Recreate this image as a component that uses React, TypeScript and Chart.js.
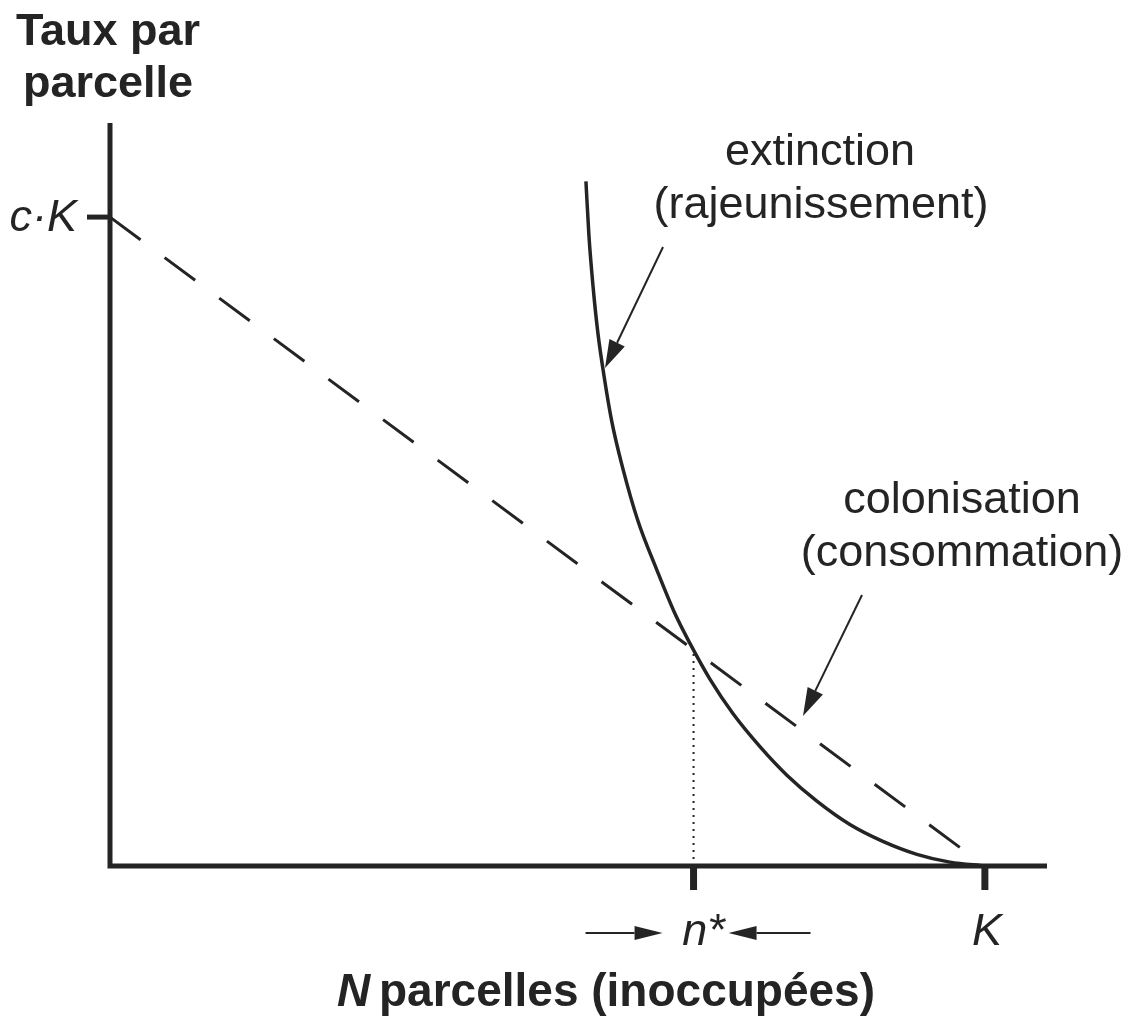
import React, { useEffect, useRef } from "react";
import { Chart, registerables } from "chart.js";

Chart.register(...registerables);

// ---- Data (x in units where K = 100, y in units where c·K = 100) ----
const K_VALUE = 100;
const CK_VALUE = 100;
const N_STAR = 66.7;
const X_MAX = 107.1;
const Y_MAX = 114.5;

// colonisation (consommation): straight line from c·K at 0 to 0 at K
const colonisationX = [0, 100];
const colonisationY = [100, 0];

// extinction (rajeunissement): steep curve, tangent to the axis at K
const extinctionX = [54.4, 54.74, 55.2, 55.77, 56.46, 57.37, 58.63, 60.34, 62.51, 64.57, 66.29, 68.57, 71.2, 74.29, 77.37, 80.8, 84.57, 88.34, 92.23, 96.0, 100];
const extinctionY = [105.5, 97.2, 89.5, 82.1, 75.6, 68.4, 61.2, 53.2, 45.6, 38.9, 34.3, 28.8, 23.5, 18.4, 14.0, 10.0, 6.4, 3.8, 1.8, 0.6, 0];

const xTickValues = [N_STAR, K_VALUE];
const xTickLabels = ["n*", "K"];
const yTickValues = [CK_VALUE];
const yTickLabels = ["c·K"];

const yTitleLines = ["Taux par", "parcelle"];
const xTitleItalic = "N";
const xTitleRest = "parcelles (inoccupées)";
const extinctionLabel = ["extinction", "(rajeunissement)"];
const colonisationLabel = ["colonisation", "(consommation)"];

const INK = "#242424";
const FONT = '"Liberation Sans", Arial, Helvetica, sans-serif';

function arrow(ctx: CanvasRenderingContext2D, x1: number, y1: number, x2: number, y2: number, headLen: number, headHalf: number, lw: number) {
  const ang = Math.atan2(y2 - y1, x2 - x1);
  const bx = x2 - headLen * Math.cos(ang);
  const by = y2 - headLen * Math.sin(ang);
  ctx.save();
  ctx.strokeStyle = INK;
  ctx.fillStyle = INK;
  ctx.lineWidth = lw;
  ctx.setLineDash([]);
  ctx.beginPath();
  ctx.moveTo(x1, y1);
  ctx.lineTo(bx, by);
  ctx.stroke();
  ctx.beginPath();
  ctx.moveTo(x2, y2);
  ctx.lineTo(bx + headHalf * Math.sin(ang), by - headHalf * Math.cos(ang));
  ctx.lineTo(bx - headHalf * Math.sin(ang), by + headHalf * Math.cos(ang));
  ctx.closePath();
  ctx.fill();
  ctx.restore();
}

const decorPlugin = {
  id: "decor",
  afterDatasetsDraw(chart: any) {
    const ctx: CanvasRenderingContext2D = chart.ctx;
    const xs = chart.scales.x;
    const ys = chart.scales.y;
    const x0 = xs.getPixelForValue(0);
    const y0 = ys.getPixelForValue(0);
    const top = chart.chartArea.top;
    const right = chart.chartArea.right;

    ctx.save();
    ctx.strokeStyle = INK;
    ctx.fillStyle = INK;
    ctx.setLineDash([]);

    // axes
    ctx.lineWidth = 5;
    ctx.beginPath();
    ctx.moveTo(x0, top);
    ctx.lineTo(x0, y0 + 2.5);
    ctx.moveTo(x0 - 2.5, y0);
    ctx.lineTo(right, y0);
    ctx.stroke();

    // y ticks
    yTickValues.forEach((v, i) => {
      const py = ys.getPixelForValue(v);
      ctx.lineWidth = 5;
      ctx.beginPath();
      ctx.moveTo(x0 - 23, py);
      ctx.lineTo(x0, py);
      ctx.stroke();
      ctx.font = `italic 45px ${FONT}`;
      ctx.textAlign = "right";
      ctx.textBaseline = "alphabetic";
      ctx.fillText(yTickLabels[i], x0 - 33, py + 14);
    });

    // x ticks
    xTickValues.forEach((v, i) => {
      const px = xs.getPixelForValue(v);
      ctx.lineWidth = 7;
      ctx.beginPath();
      ctx.moveTo(px, y0);
      ctx.lineTo(px, y0 + 24);
      ctx.stroke();
      ctx.font = `italic 45px ${FONT}`;
      ctx.textAlign = "center";
      ctx.textBaseline = "alphabetic";
      const off = i === 0 ? 10 : 2;
      ctx.fillText(xTickLabels[i], px + off, y0 + 79);
    });

    // arrows around n*
    const nx = xs.getPixelForValue(N_STAR);
    arrow(ctx, nx - 108, y0 + 67, nx - 31, y0 + 67, 28, 7, 2);
    arrow(ctx, nx + 117, y0 + 67, nx + 35, y0 + 67, 28, 7, 2);

    // y title
    ctx.font = `bold 45px ${FONT}`;
    ctx.textAlign = "center";
    ctx.fillText(yTitleLines[0], x0 - 2, top - 78);
    ctx.fillText(yTitleLines[1], x0 - 2, top - 26);

    // x title
    ctx.font = `italic bold 46px ${FONT}`;
    const wN = ctx.measureText(xTitleItalic).width;
    ctx.font = `bold 46px ${FONT}`;
    const wRest = ctx.measureText(" " + xTitleRest).width;
    const cx = 606;
    const startX = cx - (wN + wRest - 4) / 2;
    ctx.textAlign = "left";
    ctx.font = `italic bold 46px ${FONT}`;
    ctx.fillText(xTitleItalic, startX, y0 + 140);
    ctx.font = `bold 46px ${FONT}`;
    ctx.fillText(" " + xTitleRest, startX + wN - 4, y0 + 140);

    // curve labels
    ctx.font = `45px ${FONT}`;
    ctx.textAlign = "center";
    ctx.fillText(extinctionLabel[0], 820, 165);
    ctx.fillText(extinctionLabel[1], 821, 218);
    ctx.fillText(colonisationLabel[0], 962, 513);
    ctx.fillText(colonisationLabel[1], 962, 566);

    // label arrows
    arrow(ctx, 663, 247, 605, 368, 28, 8.5, 2);
    arrow(ctx, 862, 595, 803, 716, 28, 8.5, 2);

    ctx.restore();
  },
};

export default function App() {
  const canvasRef = useRef<HTMLCanvasElement | null>(null);

  useEffect(() => {
    document.body.style.margin = "0";
    const canvas = canvasRef.current;
    if (!canvas) return;

    const colonisationData = colonisationX.map((x, i) => ({ x, y: colonisationY[i] }));
    const extinctionData = extinctionX.map((x, i) => ({ x, y: extinctionY[i] }));
    const dottedData = [
      { x: N_STAR, y: 0 },
      { x: N_STAR, y: CK_VALUE * (1 - N_STAR / K_VALUE) },
    ];

    const chart = new Chart(canvas, {
      type: "line",
      data: {
        datasets: [
          {
            label: "colonisation",
            data: colonisationData,
            borderColor: INK,
            borderWidth: 3,
            borderDash: [38, 30],
            pointRadius: 0,
            fill: false,
            clip: false as any,
          },
          {
            label: "extinction",
            data: extinctionData,
            borderColor: INK,
            borderWidth: 3.5,
            cubicInterpolationMode: "monotone",
            pointRadius: 0,
            fill: false,
            clip: false as any,
          },
          {
            label: "n*",
            data: dottedData,
            borderColor: INK,
            borderWidth: 2,
            borderDash: [2, 5],
            pointRadius: 0,
            fill: false,
            clip: false as any,
          },
        ],
      },
      options: {
        animation: false,
        responsive: false,
        maintainAspectRatio: false,
        devicePixelRatio: 1,
        layout: { padding: { left: 110, right: 87, top: 123, bottom: 154 } },
        plugins: { legend: { display: false }, tooltip: { enabled: false } },
        scales: {
          x: { type: "linear", min: 0, max: X_MAX, display: false },
          y: { type: "linear", min: 0, max: Y_MAX, display: false },
        },
      },
      plugins: [decorPlugin],
    });

    return () => chart.destroy();
  }, []);

  return (
    <div style={{ width: 1134, height: 1020, background: "#fff" }}>
      <canvas ref={canvasRef} width={1134} height={1020} />
    </div>
  );
}
